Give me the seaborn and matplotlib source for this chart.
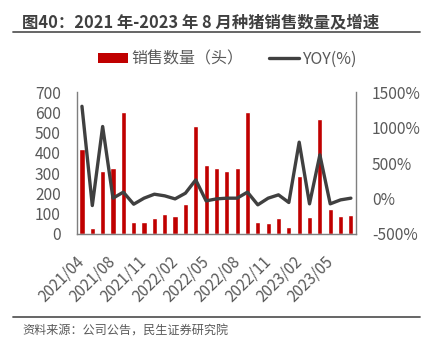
import numpy as np
import pandas as pd
import matplotlib
matplotlib.use("Agg")
import matplotlib.pyplot as plt
import seaborn as sns
from matplotlib.lines import Line2D
from matplotlib.patches import Patch

months = ["2021/04", "2021/06", "2021/07", "2021/08", "2021/09", "2021/10", "2021/11",
          "2021/12", "2022/01", "2022/02", "2022/03", "2022/04", "2022/05", "2022/06",
          "2022/07", "2022/08", "2022/09", "2022/10", "2022/11", "2022/12", "2023/01",
          "2023/02", "2023/03", "2023/04", "2023/05", "2023/06", "2023/07"]
sales = [420, 28, 313, 324, 600, 58, 58, 79, 99, 89, 148, 532, 338, 324,
         313, 324, 600, 58, 56, 77, 35, 288, 82, 568, 122, 89, 92]
yoy = [1300, -100, 1015, 4, 89, -81, 4, 60, 37, -6, 74, 262, -34, -6,
       4, 4, 89, -90, 4, 51, -57, 794, -76, 615, -76, -20, 4]
left_ticks = [0, 100, 200, 300, 400, 500, 600, 700]
right_ticks = [-500, 0, 500, 1000, 1500]

sns.set_theme(style="white")
plt.rcParams["font.family"] = ["Noto Sans CJK SC", "DejaVu Sans"]

BAR = "#C00000"
LINE = "#404040"
TXT = "#595959"

fig = plt.figure(figsize=(4.29, 3.45), dpi=100)
ax = fig.add_axes([0.179, 0.322, 0.651, 0.411])

df = pd.DataFrame({"month": months, "sales": sales, "yoy": yoy, "pos": np.arange(len(months))})
sns.barplot(data=df, x="month", y="sales", color=BAR, saturation=1, width=0.5, ax=ax)
ax2 = ax.twinx()
sns.lineplot(data=df, x="pos", y="yoy", color=LINE, lw=2.4, ax=ax2)

ax.set_xlim(-0.5, len(months) - 0.5)
ax.set_ylim(0, 700)
ax2.set_ylim(-500, 1500)
ax.set_yticks(left_ticks)
ax.set_yticklabels([str(v) for v in left_ticks], fontsize=11.2, color=TXT)
ax2.set_yticks(right_ticks)
ax2.set_yticklabels([f"{v}%" for v in right_ticks], fontsize=11.2, color=TXT)
ax.set_xticks(range(0, len(months), 3))
ax.set_xticklabels(months[::3], rotation=45, ha="right", va="center",
                   rotation_mode="anchor", fontsize=11, color=TXT)
ax.set_xlabel("")
ax.set_ylabel("")
ax2.set_xlabel("")
ax2.set_ylabel("")
ax.tick_params(axis="y", length=0, pad=11.5)
ax.tick_params(axis="x", length=0, pad=18)
ax2.tick_params(axis="both", length=0, pad=11.5)
ax2.set_xlim(-0.5, len(months) - 0.5)

for s in ["top", "right"]:
    ax.spines[s].set_visible(False)
for s in ["top", "left", "bottom"]:
    ax2.spines[s].set_visible(False)
for a, s in [(ax, "left"), (ax, "bottom"), (ax2, "right")]:
    a.spines[s].set_color("#7f7f7f")
    a.spines[s].set_linewidth(1.0)
ax.grid(False)
ax2.grid(False)

handles = [Patch(facecolor=BAR, edgecolor="none"), Line2D([], [], color=LINE, lw=2.4)]
fig.legend(handles, ["销售数量（头）", "YOY(%)"], loc="center", bbox_to_anchor=(0.53, 0.828),
           ncol=2, frameon=False, fontsize=11.5, handlelength=1.9, handleheight=0.6,
           columnspacing=1.6, handletextpad=0.2, labelcolor=TXT)

fig.text(0.051, 0.934, "图40：2021 年-2023 年 8 月种猪销售数量及增速", fontsize=11.8,
         fontweight="bold", color="#404040", va="center", ha="left")
fig.add_artist(Line2D([0.03, 0.98], [0.906, 0.906], color="#595959", lw=1.3))
fig.add_artist(Line2D([0.03, 0.98], [0.082, 0.082], color="#595959", lw=1.3))
fig.text(0.051, 0.039, "资料来源：公司公告，民生证券研究院", fontsize=8.7, color=TXT,
         va="center", ha="left")

fig.savefig("out.png", dpi=100)
